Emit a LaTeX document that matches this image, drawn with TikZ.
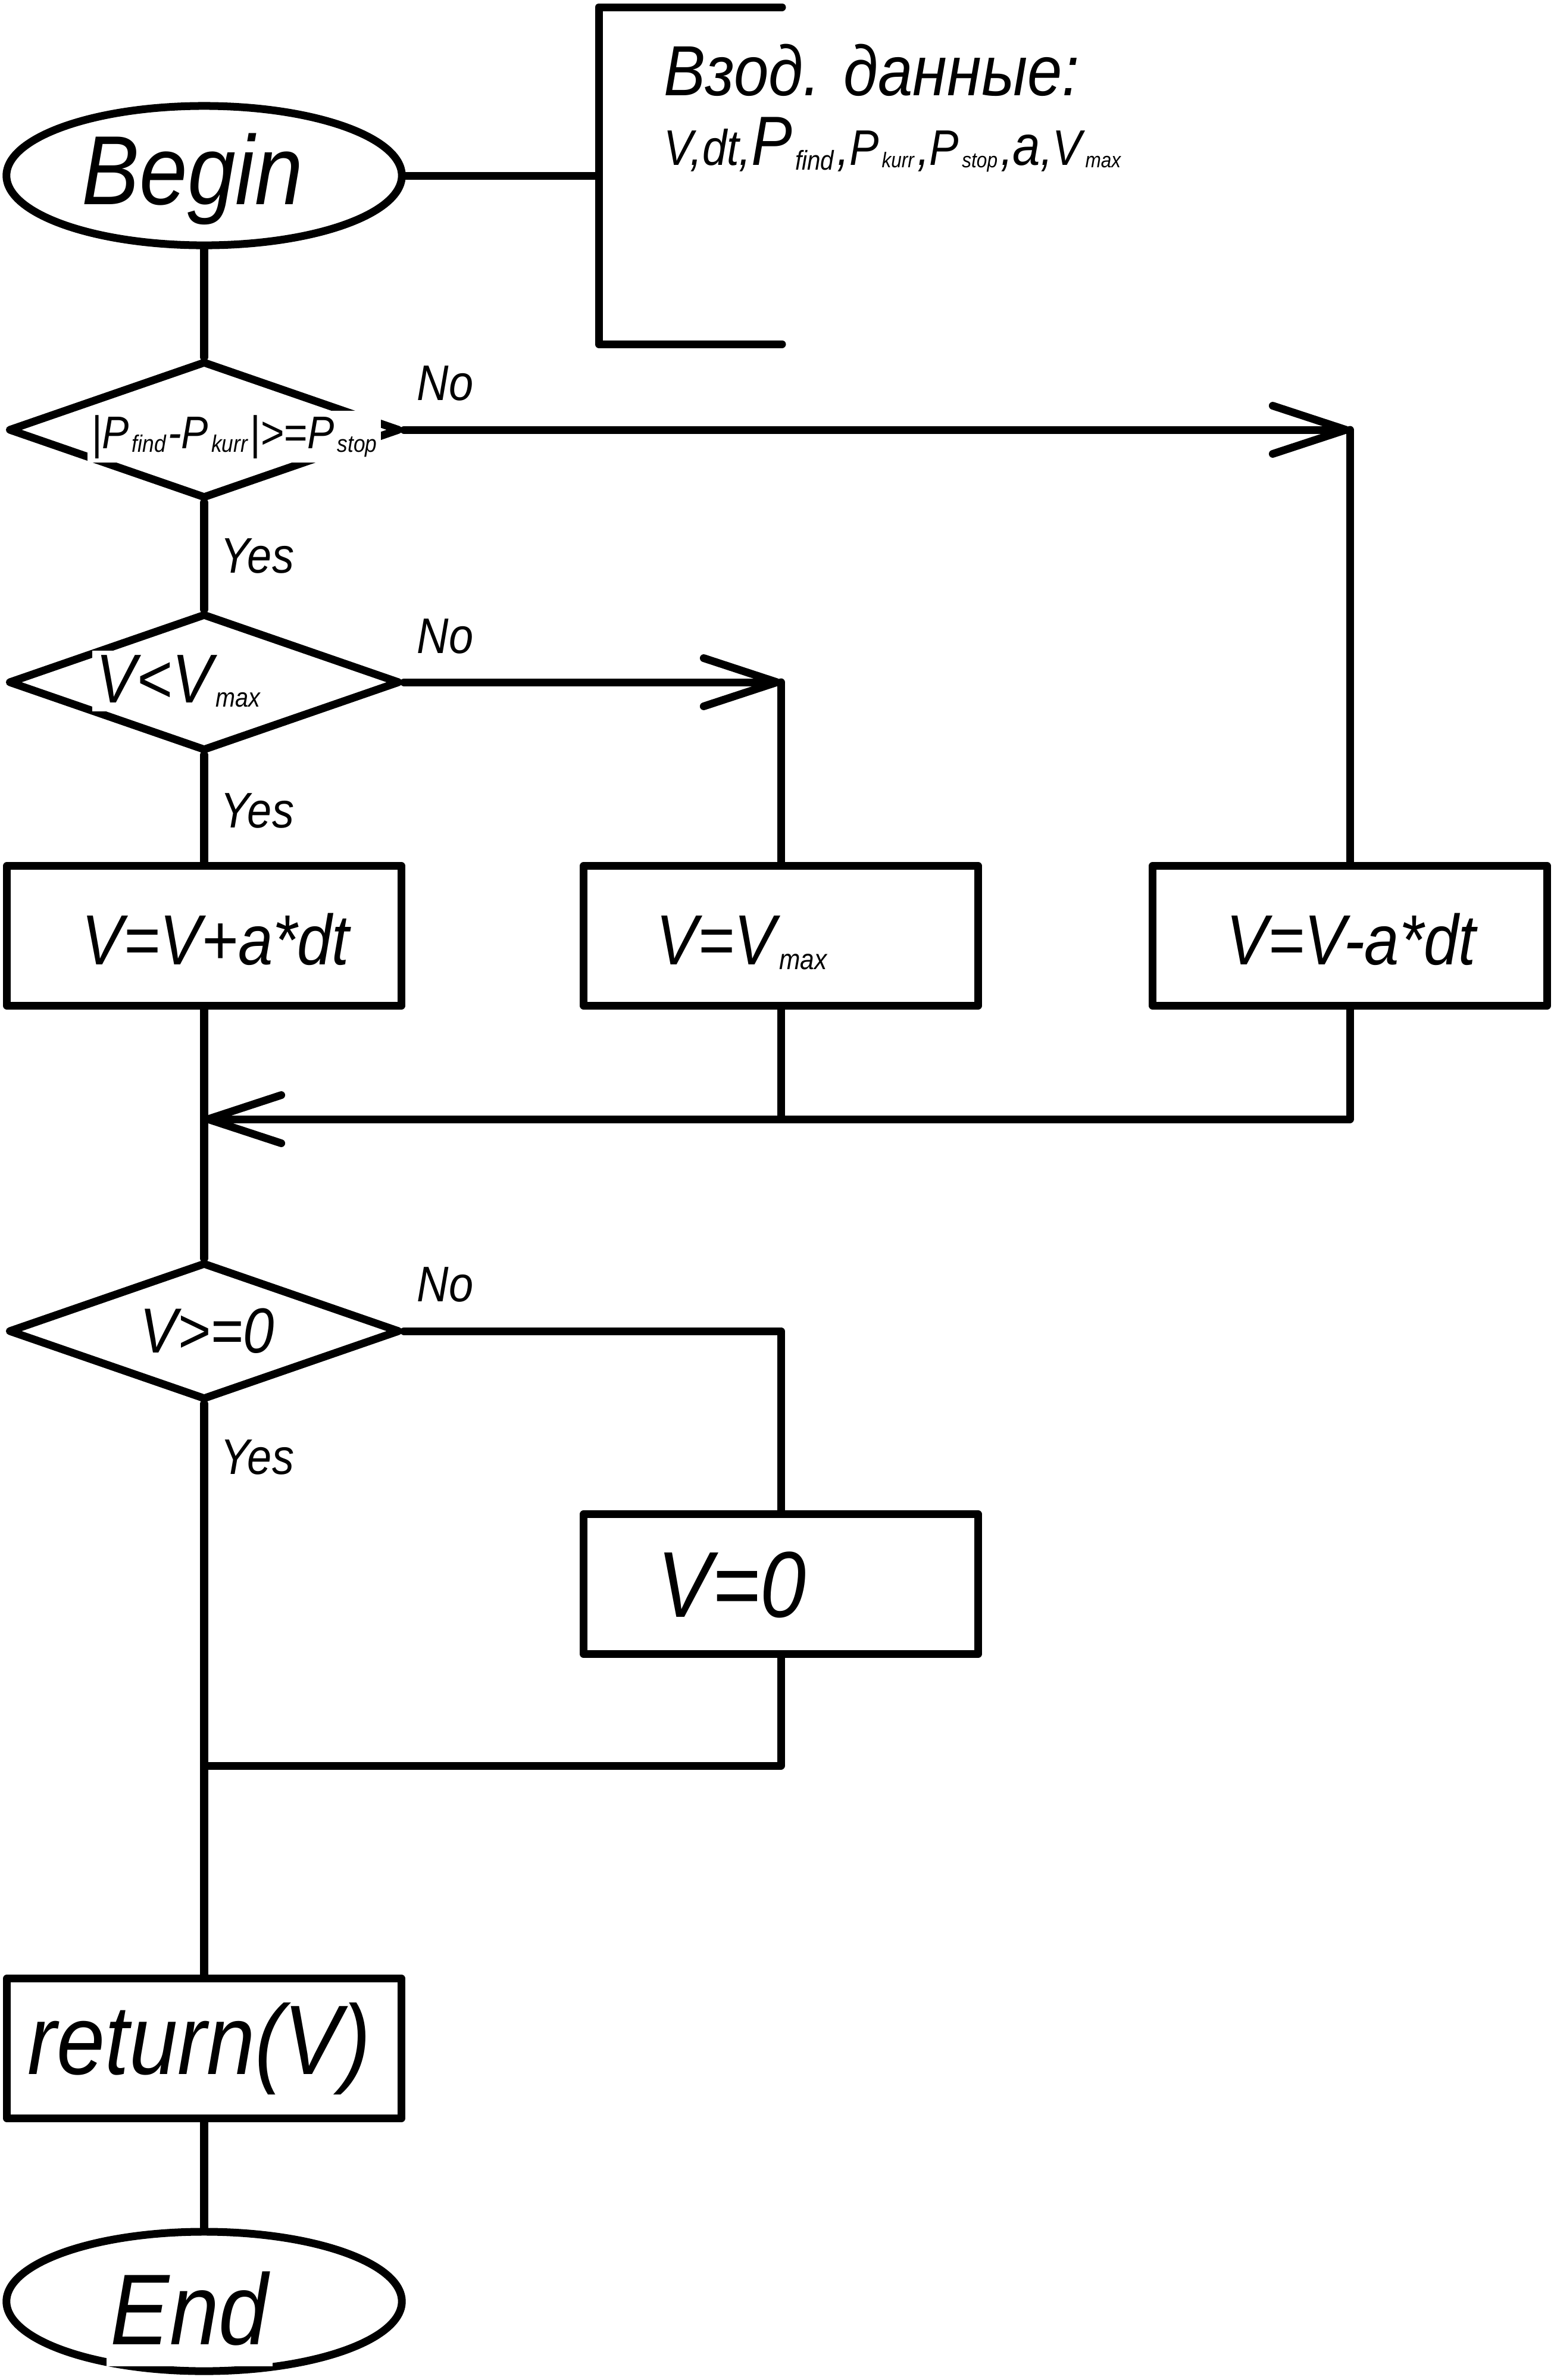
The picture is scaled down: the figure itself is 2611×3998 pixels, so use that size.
\documentclass[tikz,border=0pt]{standalone}
\usepackage{fontspec}
\setmainfont{Liberation Sans}[FakeStretch=0.88]
\usetikzlibrary{shapes.geometric,arrows.meta}
% font size in pt, line spacing equal to size
\newcommand\fsz[1]{\fontsize{#1}{#1}\selectfont}
% lowered subscript: size, drop, text
\newcommand\lowsub[3]{\hspace{1.5pt}\raisebox{-#2}{\fsz{#1}#3}}
\begin{document}
\begin{tikzpicture}[x=0.01cm,y=-0.01cm,
  flow/.style={line width=3.7pt, line cap=round, line join=round},
  term/.style={ellipse, draw, line width=3.7pt, minimum width=6.64cm, minimum height=2.34cm, inner sep=0pt},
  cond/.style={diamond, draw, line width=3.7pt, line join=round, minimum width=6.58cm, minimum height=2.31cm, inner sep=0pt},
  proc/.style={rectangle, draw, line width=3.7pt, line join=round, minimum width=6.62cm, minimum height=2.35cm, inner sep=0pt},
  lbl/.style={anchor=base west, inner sep=0pt, font=\itshape},
  masked/.style={anchor=base west, fill=white, inner sep=2pt, font=\itshape},
  barb/.tip={Straight Barb[length=35pt,width=23pt,round]}
]
\useasboundingbox (0,0) rectangle (2611,3998);

% ---- shapes ----
\node[term] (begin) at (343,295) {};
\node[cond] (d1) at (343,722) {};
\node[cond] (d2) at (343,1146) {};
\node[proc] (b1) at (343,1572) {};
\node[proc] (b2) at (1312,1572) {};
\node[proc] (b3) at (2268,1572) {};
\node[cond] (d3) at (343,2236) {};
\node[proc] (b4) at (1312,2661) {};
\node[proc] (ret) at (343,3441) {};
\node[term] (end) at (343,3866) {};

% ---- input data bracket ----
\coordinate (bk) at (1006,295);
\coordinate (bkt) at (1006,12);
\coordinate (bkb) at (1006,578);
\coordinate (bkte) at (1314,12);
\coordinate (bkbe) at (1314,578);
\draw[flow] (begin.east) -- (bk);
\draw[flow] (bkte) -- (bkt) -- (bkb) -- (bkbe);

% ---- connectors ----
\coordinate (c1) at (b3.north |- d1.east);
\coordinate (c2) at (b2.north |- d2.east);
\coordinate (m) at (343,1880);
\coordinate (j) at (343,2966);

\draw[flow] (begin.south) -- (d1.north);
\draw[flow] (d1.south) -- (d2.north);
\draw[flow] (d2.south) -- (b1.north);
\draw[flow] (b1.south) -- (d3.north);
\draw[flow] (d3.south) -- (ret.north);
\draw[flow] (ret.south) -- (end.north);

\draw[flow,-barb] (d1.east) -- (c1);
\draw[flow] (c1) -- (b3.north);
\draw[flow,-barb] (d2.east) -- (c2);
\draw[flow] (c2) -- (b2.north);

\draw[flow,-barb] (b3.south) |- (m);
\draw[flow] (b2.south) -- (b2.south |- m);

\draw[flow] (d3.east) -| (b4.north);
\draw[flow] (b4.south) |- (j);

% ---- texts ----
\node[lbl] (tbegin) at (137,343) {\fsz{46.9pt}Begin};
\node[lbl] (tin1) at (1115,160) {\fsz{33.9pt}Взод. данные:};
\node[lbl] (tin2) at (1115,277) {\fsz{23.9pt}V,dt,{\fsz{33.3pt}P}\lowsub{13pt}{2.3pt}{find}\hspace{1.5pt},P\lowsub{10.2pt}{1.4pt}{kurr}\hspace{1.5pt},P\lowsub{10.2pt}{1.4pt}{stop}\hspace{1.5pt},{\fsz{27pt}a},V\lowsub{10.2pt}{1.4pt}{max}};

\node[masked] (td1) at (146,753) {\fsz{21.9pt}|P\lowsub{11.4pt}{1.7pt}{find}\hspace{1pt}-P\lowsub{11.4pt}{1.7pt}{kurr}\hspace{1pt}|>=P\lowsub{11.4pt}{1.7pt}{stop}};
\node[lbl] (no1) at (700,672) {\fsz{23.9pt}No};
\node[lbl] (yes1) at (370,962) {\fsz{23.9pt}Yes};

\node[masked] (td2) at (154,1180) {\fsz{33pt}V<V\lowsub{12.8pt}{2pt}{max}};
\node[lbl] (no2) at (700,1097) {\fsz{23.9pt}No};
\node[lbl] (yes2) at (370,1390) {\fsz{23.9pt}Yes};

\node[lbl] (tb1) at (137,1620) {\fsz{33.9pt}V=V+a*dt};
\node[lbl] (tb2) at (1102,1620) {\fsz{33.9pt}V=V\lowsub{13.7pt}{2.5pt}{max}};
\node[lbl] (tb3) at (2060,1620) {\fsz{33.9pt}V=V-a*dt};

\node[lbl] (td3) at (235,2272) {\fsz{30.4pt}V>=0};
\node[lbl] (no3) at (700,2186) {\fsz{23.9pt}No};
\node[lbl] (yes3) at (370,2476) {\fsz{23.9pt}Yes};

\node[lbl] (tb4) at (1104,2716) {\fsz{44.7pt}V=0};
\node[lbl] (tret) at (46,3484) {\fsz{47.2pt}return(V)};
\node[masked, inner xsep=2pt, inner ysep=10pt] (tend) at (178,3938) {\fsz{48.1pt}End};
\end{tikzpicture}
\end{document}
